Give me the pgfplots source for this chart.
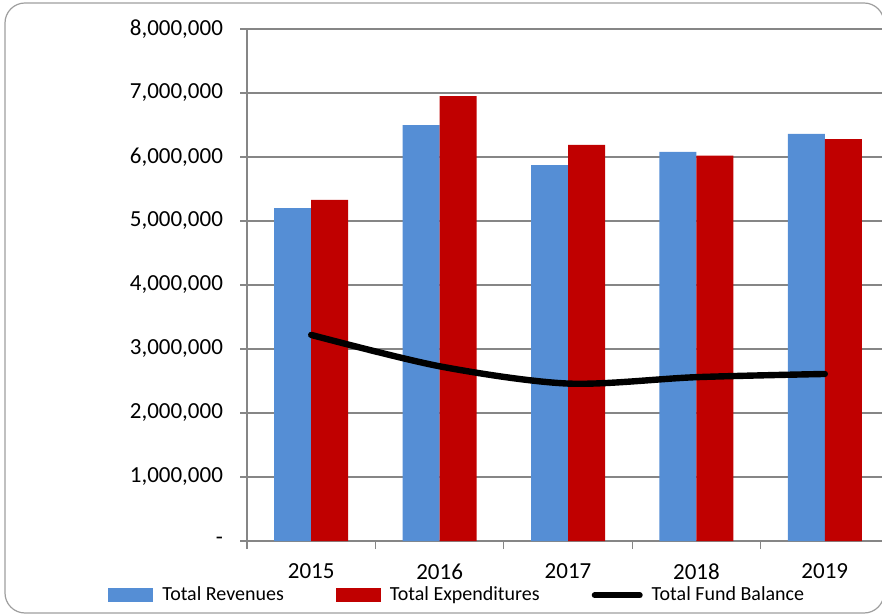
\documentclass[border=0pt]{standalone}
\usepackage{pgfplots}
\pgfplotsset{compat=1.18}
\usepackage{fontspec}
\setmainfont{Carlito}
\definecolor{revblue}{RGB}{85,142,213}
\definecolor{expred}{RGB}{192,0,0}
\definecolor{gridgray}{RGB}{134,134,134}
\begin{document}
\begin{tikzpicture}
\useasboundingbox (0,0) rectangle (441pt,307.5pt);
\clip (0,0) rectangle (441pt,307.5pt);
\draw[gridgray!80, line width=0.6pt, rounded corners=10pt] (2.5pt,1pt) rectangle (442pt,306pt);
\begin{axis}[
  at={(123.5pt,37pt)}, anchor=south west,
  scale only axis, width=321pt, height=256pt,
  xmin=-0.5, xmax=4.5, ymin=0, ymax=8000000,
  axis x line=bottom, axis y line=left,
  axis line style={draw=gridgray, line width=0.6pt, -},
  ymajorgrids, grid style={gridgray, line width=0.6pt},
  ytick={0,1000000,2000000,3000000,4000000,5000000,6000000,7000000,8000000},
  yticklabels={-,{1,000,000},{2,000,000},{3,000,000},{4,000,000},{5,000,000},{6,000,000},{7,000,000},{8,000,000}},
  scaled y ticks=false,
  xtick={0,1,2,3,4}, xticklabels={2015,2016,2017,2018,2019},
  xtick style={draw=none},
  ytick style={draw=gridgray, line width=0.6pt},
  tick align=outside, major tick length=3.5pt,
  extra x ticks={-0.5,0.5,1.5,2.5,3.5,4.5}, extra x tick labels={},
  extra x tick style={xtick style={draw=gridgray, line width=0.6pt}, major tick length=4pt, grid=none},
  /pgf/number format/assume math mode=true,
  yticklabel style={font=\fontsize{11.5}{12}\selectfont, xshift=-5pt},
  xticklabel style={font=\fontsize{11.5}{12}\selectfont, yshift=-4.5pt},
  legend columns=3,
  legend style={draw=none, fill=none, at={(0.329,-0.106)}, anchor=center,
    font=\fontsize{10}{11}\selectfont,
    /tikz/every odd column/.append style={column sep=2.5pt},
    /tikz/every even column/.append style={column sep=24pt}},
]
\addplot[ybar, bar width=18.5pt, bar shift=-9.25pt, fill=revblue, draw=none,
  legend image code/.code={\fill[revblue] (0pt,-3.5pt) rectangle (22.5pt,3.5pt);}]
  coordinates {(0,5200000) (1,6500000) (2,5875000) (3,6080000) (4,6360000)};
\addlegendentry{Total Revenues}
\addplot[ybar, bar width=18.5pt, bar shift=9.25pt, fill=expred, draw=none,
  legend image code/.code={\fill[expred] (0pt,-3.5pt) rectangle (22.5pt,3.5pt);}]
  coordinates {(0,5330000) (1,6950000) (2,6190000) (3,6020000) (4,6280000)};
\addlegendentry{Total Expenditures}
\addplot[black, line width=3.2pt, smooth, line cap=round,
  legend image code/.code={\draw[black, line width=3pt, line cap=round] (0pt,0pt) -- (22.5pt,0pt);}]
  coordinates {(0,3220000) (1,2730000) (2,2460000) (3,2560000) (4,2610000)};
\addlegendentry{Total Fund Balance}
\end{axis}
\end{tikzpicture}
\end{document}
